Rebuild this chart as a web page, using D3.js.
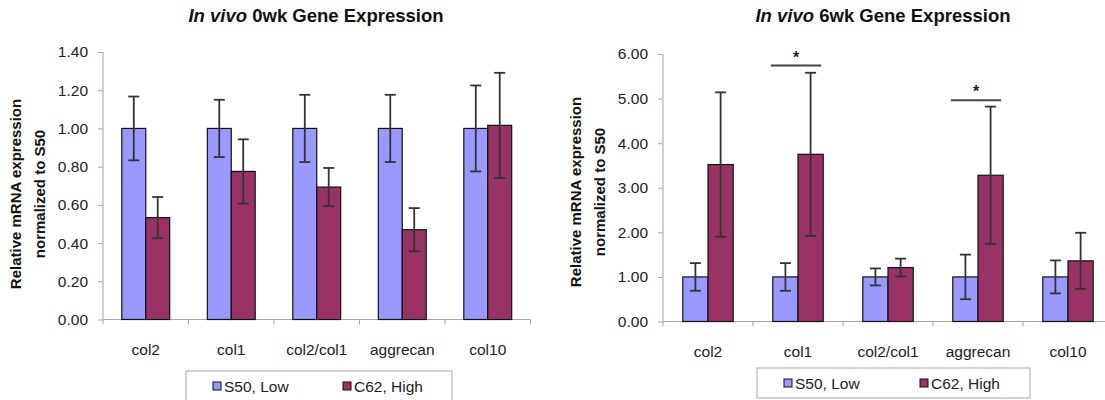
<!DOCTYPE html>
<html>
<head>
<meta charset="utf-8">
<style>
body { margin: 0; background: #fff; }
svg { display: block; font-family: Arial, "Liberation Sans", sans-serif; }
.tick text { fill: #222; }
</style>
</head>
<body>
<svg width="1105" height="400"></svg>
<script src="https://d3js.org/d3.v7.min.js"></script>
<script>

// data
var genes = ["col2", "col1", "col2/col1", "aggrecan", "col10"];
var groups = ["S50, Low", "C62, High"];
var colors = ["#9999ff", "#993366"];

var wk0Low = [1.00, 1.00, 1.00, 1.00, 1.00];
var wk0LowErr = [0.167, 0.150, 0.176, 0.176, 0.225];
var wk0High = [0.533, 0.775, 0.693, 0.470, 1.016];
var wk0HighErr = [0.108, 0.168, 0.100, 0.113, 0.275];

var wk6Low = [1.00, 1.00, 1.00, 1.00, 1.00];
var wk6LowErr = [0.31, 0.31, 0.19, 0.50, 0.37];
var wk6High = [3.52, 3.75, 1.21, 3.28, 1.36];
var wk6HighErr = [1.62, 1.83, 0.20, 1.54, 0.63];

var wk0Ticks = [0, 0.2, 0.4, 0.6, 0.8, 1.0, 1.2, 1.4];
var wk6Ticks = [0, 1, 2, 3, 4, 5, 6];

var wk6Stars = [{gene: "col1", y: 5.74}, {gene: "aggrecan", y: 4.96}];

var svg = d3.select("svg");

function rows(low, lowErr, high, highErr) {
  return genes.map(function(g, i) {
    return {gene: g, vals: [
      {grp: groups[0], v: low[i], e: lowErr[i]},
      {grp: groups[1], v: high[i], e: highErr[i]}
    ]};
  });
}

function drawChart(c) {
  var g = svg.append("g");

  var x0 = d3.scaleBand().domain(genes).range([c.left, c.left + c.catW * genes.length]);
  var gap = x0.bandwidth() * 0.22;
  var x1 = d3.scaleBand().domain(groups).range([gap, x0.bandwidth() - gap]);
  var y = d3.scaleLinear().domain([0, d3.max(c.ticks)]).range([c.bottom, c.top]);
  var color = d3.scaleOrdinal().domain(groups).range(colors);

  // title
  var t = g.append("text")
    .attr("x", c.titleX).attr("y", c.titleY)
    .attr("text-anchor", "middle")
    .style("font-size", "18.5px").style("font-weight", "bold").attr("fill", "#111");
  t.append("tspan").style("font-style", "italic").text("In vivo");
  t.append("tspan").text(" " + c.title);

  // y axis label
  var yl = g.append("text")
    .attr("transform", "translate(" + c.labelX + "," + c.labelY + ") rotate(-90)")
    .attr("text-anchor", "middle")
    .style("font-size", "15px").style("font-weight", "bold").attr("fill", "#111");
  yl.append("tspan").attr("x", 0).attr("dy", 0).text("Relative mRNA expression");
  yl.append("tspan").attr("x", 0).attr("dy", 23.5).text("normalized to S50");

  // y axis
  var ya = g.append("g")
    .attr("transform", "translate(" + c.left + ",0)")
    .call(d3.axisLeft(y).tickValues(c.ticks).tickFormat(d3.format(".2f")).tickSize(5).tickPadding(10));
  ya.selectAll("line, path").attr("stroke", "#a6a6a6");
  ya.select(".domain").attr("d", "M0," + y(0) + "V" + y(d3.max(c.ticks)));
  ya.selectAll("text").style("font-size", "15.5px");

  // x axis (ticks at category boundaries)
  var bounds = genes.map(function(d) { return x0(d); }).concat([x0.range()[1]]);
  g.append("line")
    .attr("x1", x0.range()[0]).attr("x2", x0.range()[1])
    .attr("y1", y(0)).attr("y2", y(0))
    .attr("stroke", "#a6a6a6");
  g.selectAll(".xt").data(bounds).enter().append("line")
    .attr("x1", function(d) { return d; }).attr("x2", function(d) { return d; })
    .attr("y1", y(0)).attr("y2", y(0) + 5)
    .attr("stroke", "#a6a6a6");
  g.selectAll(".xl").data(genes).enter().append("text")
    .attr("x", function(d) { return x0(d) + x0.bandwidth() / 2; })
    .attr("y", c.catLabelY)
    .attr("text-anchor", "middle")
    .style("font-size", "15.5px").attr("fill", "#222")
    .text(function(d) { return d; });

  // bars
  var cat = g.selectAll(".cat").data(c.data).enter().append("g")
    .attr("transform", function(d) { return "translate(" + x0(d.gene) + ",0)"; });

  cat.selectAll("rect").data(function(d) { return d.vals; }).enter().append("rect")
    .attr("x", function(d) { return x1(d.grp); })
    .attr("y", function(d) { return y(d.v); })
    .attr("width", x1.bandwidth())
    .attr("height", function(d) { return y(0) - y(d.v); })
    .attr("fill", function(d) { return color(d.grp); })
    .attr("stroke", "#111").attr("stroke-width", 1.2);

  // error bars
  var eb = cat.selectAll(".eb").data(function(d) { return d.vals; }).enter().append("g")
    .attr("stroke", "#333").attr("stroke-width", 1.8);
  function cx(d) { return x1(d.grp) + x1.bandwidth() / 2; }
  eb.append("line")
    .attr("x1", cx).attr("x2", cx)
    .attr("y1", function(d) { return y(d.v + d.e); })
    .attr("y2", function(d) { return y(d.v - d.e); });
  eb.append("line")
    .attr("x1", function(d) { return cx(d) - 5.5; }).attr("x2", function(d) { return cx(d) + 5.5; })
    .attr("y1", function(d) { return y(d.v + d.e); }).attr("y2", function(d) { return y(d.v + d.e); });
  eb.append("line")
    .attr("x1", function(d) { return cx(d) - 5.5; }).attr("x2", function(d) { return cx(d) + 5.5; })
    .attr("y1", function(d) { return y(d.v - d.e); }).attr("y2", function(d) { return y(d.v - d.e); });

  // significance marks
  c.stars.forEach(function(s) {
    var a = x0(s.gene) + x1(groups[0]) - 2, b = x0(s.gene) + x1(groups[1]) + x1.bandwidth() - 2;
    g.append("line")
      .attr("x1", a).attr("x2", b).attr("y1", y(s.y)).attr("y2", y(s.y))
      .attr("stroke", "#444").attr("stroke-width", 2);
    g.append("text")
      .attr("x", (a + b) / 2).attr("y", y(s.y) - 3)
      .attr("text-anchor", "middle")
      .style("font-size", "16px").style("font-weight", "bold").attr("fill", "#222")
      .text("*");
  });

  // legend
  var lg = g.append("g").attr("transform", "translate(" + c.legX + "," + c.legY + ")");
  lg.append("rect")
    .attr("width", c.legW).attr("height", 30)
    .attr("fill", "#fff").attr("stroke", "#a6a6a6");
  groups.forEach(function(grp, i) {
    var ox = c.legItemX[i];
    lg.append("rect")
      .attr("x", ox).attr("y", 11).attr("width", 8).attr("height", 8)
      .attr("fill", color(grp)).attr("stroke", "#111").attr("stroke-width", 1);
    lg.append("text")
      .attr("x", ox + 11).attr("y", 20.5)
      .style("font-size", "15.5px").attr("fill", "#222")
      .text(grp);
  });
}

drawChart({
  title: "0wk Gene Expression",
  data: rows(wk0Low, wk0LowErr, wk0High, wk0HighErr),
  ticks: wk0Ticks,
  stars: [],
  left: 103, catW: 85.5, top: 52, bottom: 319.5,
  titleX: 316, titleY: 22,
  labelX: 21, labelY: 194,
  catLabelY: 354.5,
  legX: 186, legY: 371, legW: 266, legItemX: [27, 157]
});

drawChart({
  title: "6wk Gene Expression",
  data: rows(wk6Low, wk6LowErr, wk6High, wk6HighErr),
  ticks: wk6Ticks,
  stars: wk6Stars,
  left: 663, catW: 90, top: 54, bottom: 321.5,
  titleX: 883, titleY: 22,
  labelX: 581, labelY: 192,
  catLabelY: 356.5,
  legX: 757, legY: 368, legW: 273, legItemX: [27, 163]
});

</script>
</body>
</html>
